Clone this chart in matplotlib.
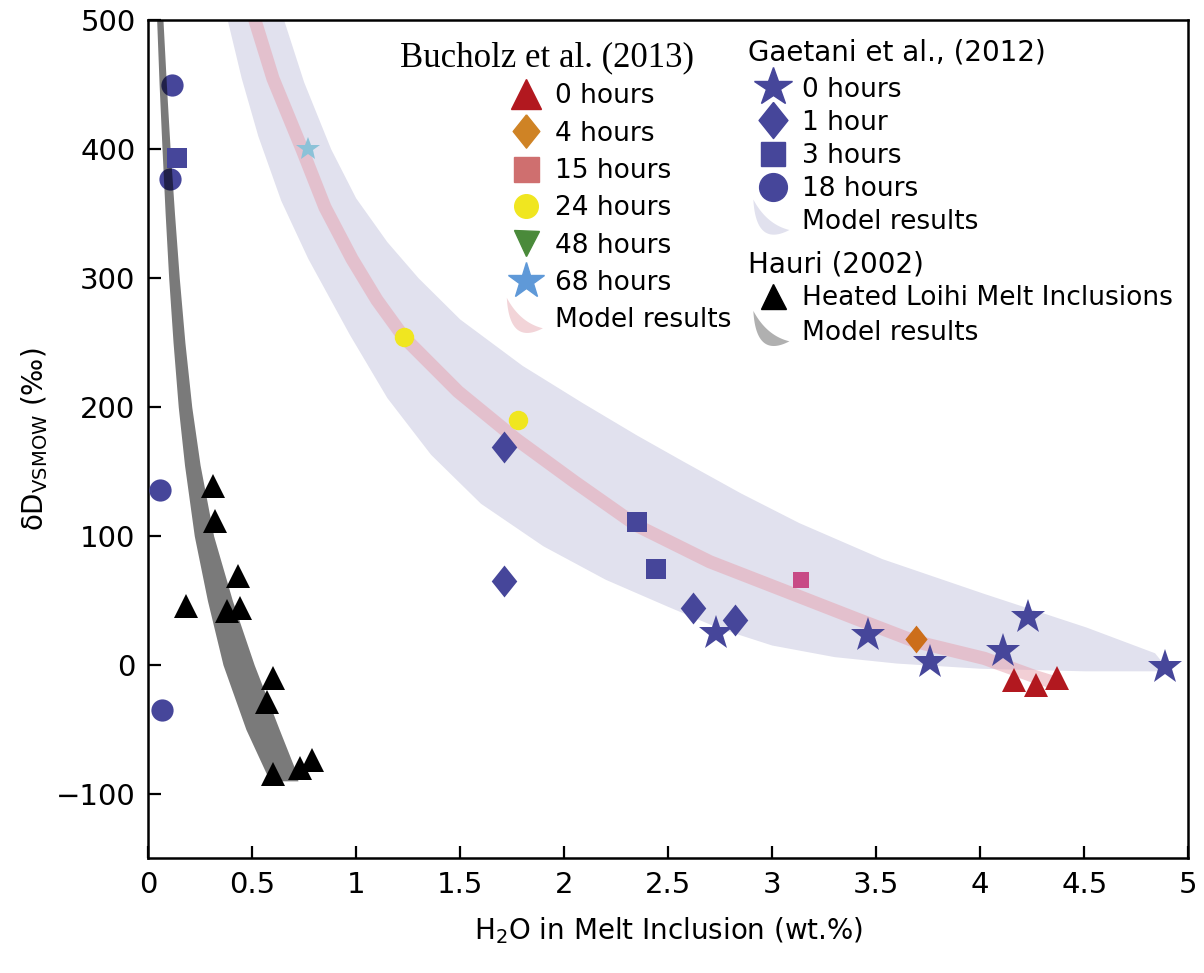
import matplotlib
matplotlib.use("Agg")
import matplotlib.pyplot as plt
import numpy as np
from matplotlib.legend_handler import HandlerBase
from matplotlib.lines import Line2D
from matplotlib.patches import Polygon
from matplotlib.ticker import FormatStrFormatter

# ---- data ----
# Gaetani et al. (2012)
gae_0h_x = [2.73, 3.46, 3.76, 4.11, 4.23, 4.89]
gae_0h_y = [25, 23, 2, 11, 37, -2]
gae_1h_x = [1.71, 1.71, 2.62, 2.82]
gae_1h_y = [169, 65, 44, 35]
gae_3h_x = [0.14, 2.35, 2.44]
gae_3h_y = [393, 111, 74]
gae_18h_x = [0.115, 0.106, 0.058, 0.067]
gae_18h_y = [450, 377, 136, -35]

# Bucholz et al. (2013)
buc_0h_x = [4.16, 4.27, 4.37]
buc_0h_y = [-12, -16, -10]
buc_4h_x = [3.69]
buc_4h_y = [20]
buc_15h_x = [3.14]
buc_15h_y = [66]
buc_24h_x = [1.23, 1.78]
buc_24h_y = [254, 190]
buc_68h_x = [0.77]
buc_68h_y = [400]

# Hauri (2002)
hauri_x = [0.31, 0.32, 0.43, 0.18, 0.38, 0.44, 0.60, 0.57, 0.60, 0.73, 0.79]
hauri_y = [139, 112, 69, 46, 42, 44, -10, -29, -85, -80, -74]

# model results: Gaetani envelope (lower and upper edge)
gae_lo_x = [0.38, 0.45, 0.53, 0.64, 0.77, 0.97, 1.15, 1.36, 1.6, 1.9, 2.2,
            2.5, 2.75, 3.0, 3.3, 3.6, 4.0, 4.5, 4.88]
gae_lo_y = [502, 455, 410, 360, 315, 256, 207, 163, 125, 92, 66,
            45, 28, 15, 6, 1, -3, -5, -5]
gae_hi_x = [0.65, 0.75, 0.88, 1.0, 1.15, 1.3, 1.5, 1.8, 2.09, 2.35, 2.57,
            2.85, 3.13, 3.53, 4.02, 4.51, 4.84, 4.91]
gae_hi_y = [502, 452, 400, 362, 328, 300, 268, 232, 203, 178, 158,
            133, 110, 82, 55, 29, 9, -5]

# model results: Bucholz curve
buc_model_x = [0.51, 0.6, 0.74, 0.85, 0.98, 1.1, 1.23, 1.49, 1.77, 2.05, 2.35,
               2.7, 3.13, 3.4, 3.69, 4.02, 4.26, 4.36]
buc_model_y = [502, 455, 400, 355, 315, 283, 254, 212, 175, 142, 108,
               80, 53, 36, 18, 5, -9, -14]

# model results: Hauri band
hauri_band_y = [505, 450, 400, 350, 300, 250, 200, 155, 100, 50, 0, -50, -85, -90]
hauri_band_lo = [0.04, 0.053, 0.067, 0.082, 0.099, 0.12, 0.145, 0.175, 0.222,
                 0.285, 0.36, 0.47, 0.57, 0.59]
hauri_band_hi = [0.07, 0.088, 0.106, 0.127, 0.15, 0.177, 0.21, 0.25, 0.315,
                 0.405, 0.51, 0.63, 0.716, 0.72]

x_ticks = [0, 0.5, 1, 1.5, 2, 2.5, 3, 3.5, 4, 4.5, 5]
y_ticks = [-100, 0, 100, 200, 300, 400, 500]

NAVY = "#46469a"
LAVENDER = "#e1e1ee"
DIAMOND = [(0, 1), (0.8, 0), (0, -1), (-0.8, 0), (0, 1)]


def bezier(p0, p1, p2, n=30):
    u = np.linspace(0, 1, n)[:, None]
    return (1 - u) ** 2 * np.array(p0) + 2 * u * (1 - u) * np.array(p1) + u ** 2 * np.array(p2)


class CrescentHandler(HandlerBase):
    """Draws the little swoosh used for the 'Model results' entries."""

    def __init__(self, color):
        super().__init__()
        self.color = color

    def create_artists(self, legend, orig_handle, xdescent, ydescent,
                       width, height, fontsize, trans):
        w, h = width * 0.9, height
        start, end = (0.05 * w, 1.6 * h), (w, -0.05 * h)
        outer = bezier(start, (0.12 * w, -1.0 * h), end)
        inner = bezier(start, (0.4 * w, 0.25 * h), end)[::-1]
        pts = np.vstack([outer, inner]) - [xdescent, ydescent]
        return [Polygon(pts, closed=True, facecolor=self.color,
                        edgecolor="none", transform=trans)]


plt.rcParams["font.family"] = ["DejaVu Sans"]

fig = plt.figure(figsize=(12.04, 9.73), dpi=100)
ax = fig.add_axes([0.123, 0.118, 0.864, 0.861])

# model bands
ax.fill(gae_lo_x + gae_hi_x[::-1], gae_lo_y + gae_hi_y[::-1],
        color=LAVENDER, lw=0, zorder=1)
ax.plot(buc_model_x, buc_model_y, color="#e6a0ad", alpha=0.5, lw=9.5,
        solid_capstyle="butt", solid_joinstyle="round", zorder=2)

# Gaetani data (circles sit under the grey Hauri band)
ax.plot(gae_18h_x, gae_18h_y, "o", color=NAVY, ms=16, mew=0, zorder=3)
ax.fill_betweenx(hauri_band_y, hauri_band_lo, hauri_band_hi,
                 color="black", alpha=0.52, lw=0, zorder=4)
ax.plot(gae_3h_x, gae_3h_y, "s", color=NAVY, ms=14, mew=0, zorder=5)
ax.plot(gae_1h_x, gae_1h_y, marker=DIAMOND, ls="none", color=NAVY, ms=23, mew=0, zorder=5)
ax.plot(gae_0h_x, gae_0h_y, "*", color=NAVY, ms=26, mew=0, zorder=5)

# Bucholz data
ax.plot(buc_0h_x, buc_0h_y, "^", color="#b2181f", ms=17, mew=0, zorder=5)
ax.plot(buc_4h_x, buc_4h_y, marker=DIAMOND, ls="none", color="#cc6e1a", ms=20, mew=0, zorder=5)
ax.plot(buc_15h_x, buc_15h_y, "s", color="#c84b86", ms=12, mew=0, zorder=5)
ax.plot(buc_24h_x, buc_24h_y, "o", color="#f0e620", ms=14, mew=0, zorder=5)
ax.plot(buc_68h_x, buc_68h_y, "*", color="#8bc2d8", ms=18, mew=0, zorder=5)

# Hauri data
ax.plot(hauri_x, hauri_y, "^", color="black", ms=17, mew=0, zorder=6)

ax.set_xlim(0, 5)
ax.set_ylim(-150, 500)
ax.set_xticks(x_ticks)
ax.set_yticks(y_ticks)
ax.xaxis.set_major_formatter(FormatStrFormatter("%g"))
ax.tick_params(direction="in", length=9, width=1.6, labelsize=21, pad=9)
for s in ax.spines.values():
    s.set_linewidth(1.8)

ax.set_xlabel("H$_2$O in Melt Inclusion (wt.%)", fontsize=20, labelpad=12)
ax.set_ylabel("δD$_{\\mathrm{VSMOW}}$ (‰)", fontsize=20, labelpad=4)

# ---- legends ----
leg_kw = dict(frameon=False, loc="upper left", borderpad=0, borderaxespad=0,
              handletextpad=0.3, handlelength=1.6, fontsize=19)

# Bucholz et al. (2013)
ax.text(0.383, 0.955, "Bucholz et al. (2013)", transform=ax.transAxes,
        ha="center", va="center", fontsize=25, family="Liberation Serif")
buc_model = Line2D([], [])
buc_handles = [
    Line2D([], [], ls="none", marker="^", color="#b2181f", ms=22),
    Line2D([], [], ls="none", marker=DIAMOND, color="#cf8325", ms=24),
    Line2D([], [], ls="none", marker="s", color="#cf6f6f", ms=18),
    Line2D([], [], ls="none", marker="o", color="#f0e620", ms=17),
    Line2D([], [], ls="none", marker="v", color="#4a8a3a", ms=18),
    Line2D([], [], ls="none", marker="*", color="#5f99d8", ms=27),
    buc_model,
]
buc_labels = ["0 hours", "4 hours", "15 hours", "24 hours", "48 hours",
              "68 hours", "Model results"]
leg1 = ax.legend(buc_handles, buc_labels, bbox_to_anchor=(0.343, 0.925),
                 labelspacing=0.43,
                 handler_map={buc_model: CrescentHandler("#f2d4d8")}, **leg_kw)
ax.add_artist(leg1)

# Gaetani et al. (2012)
ax.text(0.577, 0.962, "Gaetani et al., (2012)", transform=ax.transAxes,
        ha="left", va="center", fontsize=20)
gae_model = Line2D([], [])
gae_handles = [
    Line2D([], [], ls="none", marker="*", color=NAVY, ms=29),
    Line2D([], [], ls="none", marker=DIAMOND, color=NAVY, ms=26),
    Line2D([], [], ls="none", marker="s", color=NAVY, ms=17),
    Line2D([], [], ls="none", marker="o", color=NAVY, ms=20),
    gae_model,
]
gae_labels = ["0 hours", "1 hour", "3 hours", "18 hours", "Model results"]
leg2 = ax.legend(gae_handles, gae_labels, bbox_to_anchor=(0.580, 0.933),
                 labelspacing=0.27,
                 handler_map={gae_model: CrescentHandler(LAVENDER)}, **leg_kw)
ax.add_artist(leg2)

# Hauri (2002)
ax.text(0.577, 0.709, "Hauri (2002)", transform=ax.transAxes,
        ha="left", va="center", fontsize=20)
hauri_model = Line2D([], [])
hauri_handles = [
    Line2D([], [], ls="none", marker="^", color="black", ms=18),
    hauri_model,
]
ax.legend(hauri_handles, ["Heated Loihi Melt Inclusions", "Model results"],
          bbox_to_anchor=(0.580, 0.684), labelspacing=0.35,
          handler_map={hauri_model: CrescentHandler("#b0b0b0")}, **leg_kw)

fig.savefig("out.png", dpi=100)
